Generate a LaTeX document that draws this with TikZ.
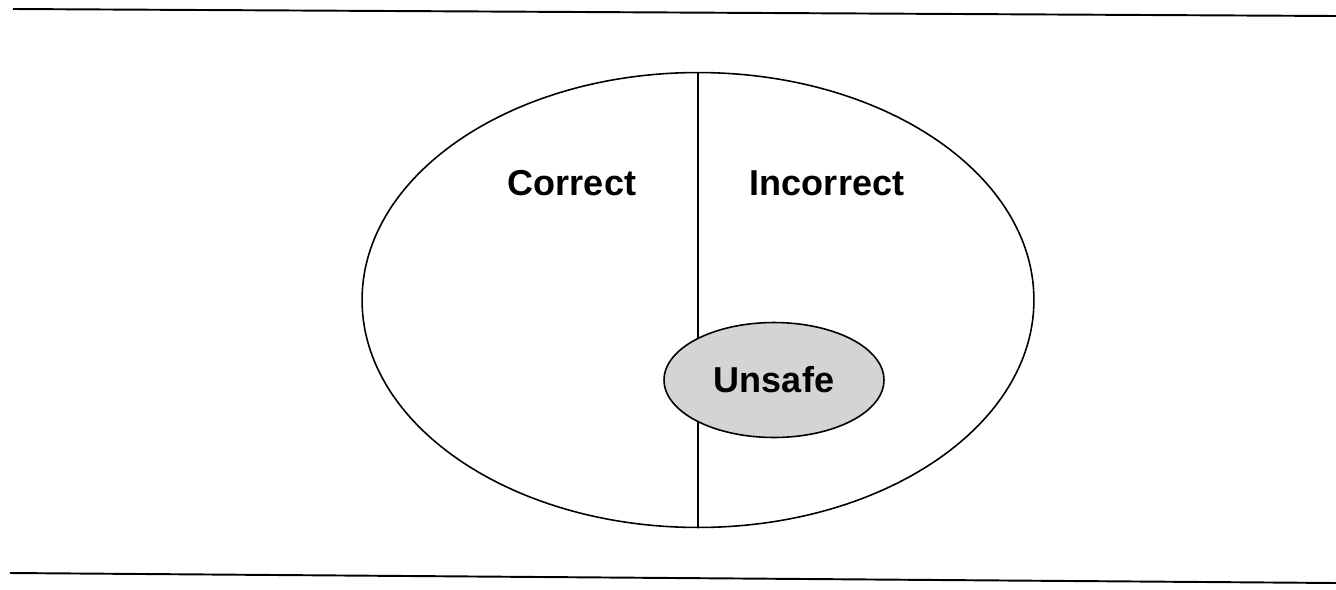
\documentclass[tikz,border=0pt]{standalone}
\usepackage{fontspec}
\setmainfont{Liberation Sans}
\usetikzlibrary{positioning, shapes.geometric}
\definecolor{unsafeGray}{RGB}{212,212,212}
\tikzstyle{region} = [ellipse, draw, line width=0.9pt, inner sep=0pt]
\tikzstyle{label}  = [font=\fontsize{20.5}{25}\selectfont\bfseries]

\begin{document}
\begin{tikzpicture}[x=0.02cm, y=-0.02cm]
% frame: 1336 x 589 px, 1px = 0.02cm, y going down
\useasboundingbox (0,0) rectangle (1336,589);
% rules above and below
\coordinate (topL) at (13,9);
\coordinate (topR) at (1336,16);
\coordinate (botL) at (10,573);
\coordinate (botR) at (1336,583);
\draw[line width=1.1pt] (topL) -- (topR);
\draw[line width=1.1pt] (botL) -- (botR);
% program space
\node[region, minimum width=13.44cm, minimum height=9.1cm] (space) at (698,300) {};
\draw[line width=0.9pt] (space.north) -- (space.south);
% labels
\node[label] (correct)   at (572,183) {Correct};
\node[label] (incorrect) at (827,183) {Incorrect};
% unsafe part
\node[region, fill=unsafeGray, minimum width=4.4cm, minimum height=2.3cm] (unsafe) at (774,380) {};
\node[label] (unsafetxt) at (unsafe.center) {Unsafe};
\end{tikzpicture}
\end{document}
